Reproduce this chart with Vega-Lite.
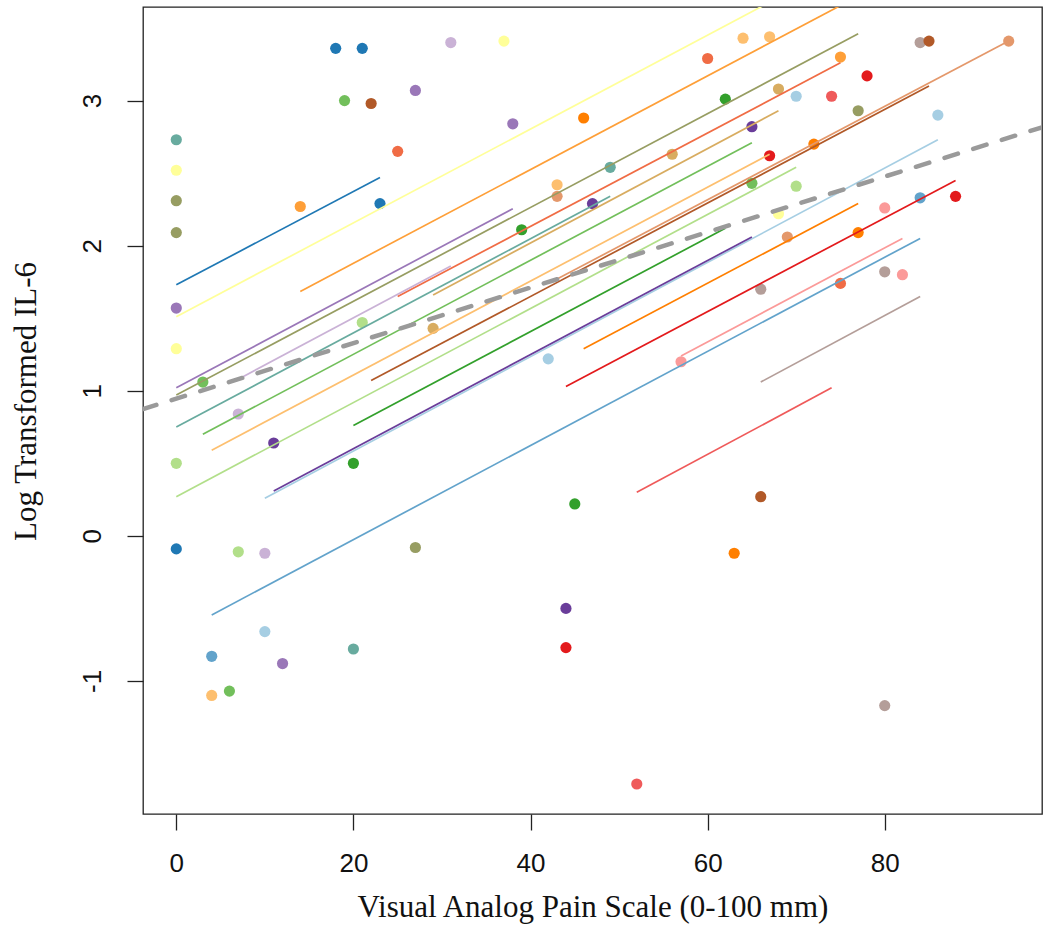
{
  "$schema": "https://vega.github.io/schema/vega-lite/v6.json",
  "width": 899,
  "height": 807,
  "autosize": {"type": "none"},
  "padding": {"left": 143, "top": 7, "right": 8, "bottom": 120},
  "background": "white",
  "config": {"view": {"stroke": "#222", "strokeWidth": 1.3}},
  "datasets": {
    "points": [
      {"s": "S01", "x": 10, "y": -0.66}, {"s": "S01", "x": 42, "y": 1.22}, {"s": "S01", "x": 70, "y": 3.03}, {"s": "S01", "x": 86, "y": 2.90},
      {"s": "S02", "x": 4, "y": -0.83}, {"s": "S02", "x": 84, "y": 2.33},
      {"s": "S03", "x": 0, "y": -0.09}, {"s": "S03", "x": 18, "y": 3.36}, {"s": "S03", "x": 21, "y": 3.36}, {"s": "S03", "x": 23, "y": 2.29},
      {"s": "S04", "x": 0, "y": 2.73}, {"s": "S04", "x": 20, "y": -0.78}, {"s": "S04", "x": 49, "y": 2.54},
      {"s": "S05", "x": 0, "y": 0.50}, {"s": "S05", "x": 7, "y": -0.11}, {"s": "S05", "x": 21, "y": 1.47}, {"s": "S05", "x": 70, "y": 2.41},
      {"s": "S06", "x": 3, "y": 1.06}, {"s": "S06", "x": 6, "y": -1.07}, {"s": "S06", "x": 19, "y": 3.00}, {"s": "S06", "x": 65, "y": 2.43},
      {"s": "S07", "x": 20, "y": 0.50}, {"s": "S07", "x": 39, "y": 2.11}, {"s": "S07", "x": 45, "y": 0.22}, {"s": "S07", "x": 62, "y": 3.01},
      {"s": "S08", "x": 0, "y": 2.31}, {"s": "S08", "x": 0, "y": 2.09}, {"s": "S08", "x": 27, "y": -0.08}, {"s": "S08", "x": 77, "y": 2.93},
      {"s": "S09", "x": 57, "y": 1.20}, {"s": "S09", "x": 80, "y": 2.26}, {"s": "S09", "x": 82, "y": 1.80},
      {"s": "S10", "x": 52, "y": -1.71}, {"s": "S10", "x": 74, "y": 3.03},
      {"s": "S11", "x": 44, "y": -0.77}, {"s": "S11", "x": 67, "y": 2.62}, {"s": "S11", "x": 78, "y": 3.17}, {"s": "S11", "x": 88, "y": 2.34},
      {"s": "S12", "x": 25, "y": 2.65}, {"s": "S12", "x": 60, "y": 3.29}, {"s": "S12", "x": 75, "y": 1.74},
      {"s": "S13", "x": 4, "y": -1.10}, {"s": "S13", "x": 43, "y": 2.42}, {"s": "S13", "x": 64, "y": 3.43}, {"s": "S13", "x": 67, "y": 3.44},
      {"s": "S14", "x": 14, "y": 2.27}, {"s": "S14", "x": 75, "y": 3.30},
      {"s": "S15", "x": 46, "y": 2.88}, {"s": "S15", "x": 63, "y": -0.12}, {"s": "S15", "x": 72, "y": 2.70}, {"s": "S15", "x": 77, "y": 2.09},
      {"s": "S16", "x": 43, "y": 2.34}, {"s": "S16", "x": 69, "y": 2.06}, {"s": "S16", "x": 94, "y": 3.41},
      {"s": "S17", "x": 7, "y": 0.84}, {"s": "S17", "x": 10, "y": -0.12}, {"s": "S17", "x": 31, "y": 3.40},
      {"s": "S18", "x": 0, "y": 1.57}, {"s": "S18", "x": 12, "y": -0.88}, {"s": "S18", "x": 27, "y": 3.07}, {"s": "S18", "x": 38, "y": 2.84},
      {"s": "S19", "x": 11, "y": 0.64}, {"s": "S19", "x": 44, "y": -0.50}, {"s": "S19", "x": 47, "y": 2.29}, {"s": "S19", "x": 65, "y": 2.82},
      {"s": "S20", "x": 66, "y": 1.70}, {"s": "S20", "x": 80, "y": 1.82}, {"s": "S20", "x": 80, "y": -1.17}, {"s": "S20", "x": 84, "y": 3.40},
      {"s": "S21", "x": 0, "y": 2.52}, {"s": "S21", "x": 0, "y": 1.29}, {"s": "S21", "x": 37, "y": 3.41}, {"s": "S21", "x": 68, "y": 2.22},
      {"s": "S22", "x": 29, "y": 1.43}, {"s": "S22", "x": 56, "y": 2.63}, {"s": "S22", "x": 68, "y": 3.08},
      {"s": "S23", "x": 22, "y": 2.98}, {"s": "S23", "x": 66, "y": 0.27}, {"s": "S23", "x": 85, "y": 3.41}
    ],
    "segments": [
      {"s": "S01", "x1": 10, "y1": 0.26, "x2": 86, "y2": 2.73},
      {"s": "S02", "x1": 4, "y1": -0.545, "x2": 84, "y2": 2.05},
      {"s": "S03", "x1": 0, "y1": 1.73, "x2": 23, "y2": 2.47},
      {"s": "S04", "x1": 0, "y1": 0.75, "x2": 49, "y2": 2.34},
      {"s": "S05", "x1": 0, "y1": 0.27, "x2": 70, "y2": 2.54},
      {"s": "S06", "x1": 3, "y1": 0.70, "x2": 65, "y2": 2.71},
      {"s": "S07", "x1": 20, "y1": 0.76, "x2": 62, "y2": 2.12},
      {"s": "S08", "x1": 0, "y1": 0.97, "x2": 77, "y2": 3.46},
      {"s": "S09", "x1": 57, "y1": 1.24, "x2": 82, "y2": 2.05},
      {"s": "S10", "x1": 52, "y1": 0.30, "x2": 74, "y2": 1.02},
      {"s": "S11", "x1": 44, "y1": 1.03, "x2": 88, "y2": 2.45},
      {"s": "S12", "x1": 25, "y1": 1.65, "x2": 75, "y2": 3.26},
      {"s": "S13", "x1": 4, "y1": 0.59, "x2": 67, "y2": 2.63},
      {"s": "S14", "x1": 14, "y1": 1.685, "x2": 75, "y2": 3.655},
      {"s": "S15", "x1": 46, "y1": 1.29, "x2": 77, "y2": 2.29},
      {"s": "S16", "x1": 43, "y1": 1.77, "x2": 94, "y2": 3.41},
      {"s": "S17", "x1": 7, "y1": 1.08, "x2": 31, "y2": 1.86},
      {"s": "S18", "x1": 0, "y1": 1.02, "x2": 38, "y2": 2.255},
      {"s": "S19", "x1": 11, "y1": 0.31, "x2": 65, "y2": 2.06},
      {"s": "S20", "x1": 66, "y1": 1.06, "x2": 84, "y2": 1.65},
      {"s": "S21", "x1": 0, "y1": 1.51, "x2": 68, "y2": 3.71},
      {"s": "S22", "x1": 29, "y1": 1.66, "x2": 68, "y2": 2.93},
      {"s": "S23", "x1": 22, "y1": 1.07, "x2": 85, "y2": 3.10}
    ],
    "overall": [
      {"x1": -3.76, "y1": 0.874, "x2": 97.76, "y2": 2.816}
    ]
  },
  "layer": [
    {
      "data": {"name": "points"},
      "mark": {"type": "circle", "size": 125, "opacity": 1},
      "encoding": {
        "x": {
          "field": "x", "type": "quantitative",
          "scale": {"domain": [-3.76, 97.76], "nice": false, "zero": false},
          "axis": {
            "values": [0, 20, 40, 60, 80], "labelExpr": "'' + datum.value", "domain": false, "grid": false,
            "tickSize": 16, "tickColor": "#222", "tickWidth": 1.3,
            "labelFont": "Liberation Sans", "labelFontSize": 26, "labelColor": "#111",
            "labelPadding": 20, "labelFlush": false, "labelOverlap": false,
            "title": "Visual Analog Pain Scale (0-100 mm)",
            "titleFont": "Liberation Serif", "titleFontSize": 31, "titleFontWeight": "normal",
            "titleColor": "#111", "titleX": 449.5, "titleY": 102.7,
            "titleBaseline": "alphabetic", "titleAlign": "center"
          }
        },
        "y": {
          "field": "y", "type": "quantitative",
          "scale": {"domain": [-1.917, 3.645], "nice": false, "zero": false},
          "axis": {
            "values": [-1, 0, 1, 2, 3], "labelExpr": "'' + datum.value", "domain": false, "grid": false,
            "tickSize": 16, "tickColor": "#222", "tickWidth": 1.3,
            "labelFont": "Liberation Sans", "labelFontSize": 26, "labelColor": "#111",
            "labelAngle": 270, "labelAlign": "center", "labelBaseline": "alphabetic",
            "labelPadding": 27, "labelFlush": false, "labelOverlap": false,
            "title": "Log Transformed IL-6",
            "titleFont": "Liberation Serif", "titleFontSize": 31, "titleFontWeight": "normal",
            "titleColor": "#111", "titleAngle": 270, "titleX": -107.5, "titleY": 394,
            "titleBaseline": "alphabetic", "titleAlign": "center"
          }
        },
        "color": {
          "field": "s", "type": "nominal", "legend": null,
          "scale": {
            "domain": ["S01","S02","S03","S04","S05","S06","S07","S08","S09","S10","S11","S12","S13","S14","S15","S16","S17","S18","S19","S20","S21","S22","S23"],
            "range": ["#A6CEE3","#62A3CB","#1F78B4","#68AB9F","#B2DF8A","#72BF5B","#33A02C","#979D62","#FB9A99","#EF5A5A","#E31A1C","#F06C45","#FDBF6F","#FE9F38","#FF7F00","#E4986B","#CAB2D6","#9A77B8","#6A3D9A","#B49E99","#FFFF99","#D8AC60","#B15928"]
          }
        }
      }
    },
    {
      "data": {"name": "segments"},
      "mark": {"type": "rule", "strokeWidth": 1.7, "clip": true},
      "encoding": {
        "x": {"field": "x1", "type": "quantitative"},
        "y": {"field": "y1", "type": "quantitative"},
        "x2": {"field": "x2"},
        "y2": {"field": "y2"},
        "color": {"field": "s", "type": "nominal", "legend": null}
      }
    },
    {
      "data": {"name": "overall"},
      "mark": {"type": "rule", "strokeWidth": 4.5, "color": "#9A9A9A", "strokeDash": [14, 16], "strokeCap": "round", "clip": true},
      "encoding": {
        "x": {"field": "x1", "type": "quantitative"},
        "y": {"field": "y1", "type": "quantitative"},
        "x2": {"field": "x2"},
        "y2": {"field": "y2"}
      }
    }
  ]
}
